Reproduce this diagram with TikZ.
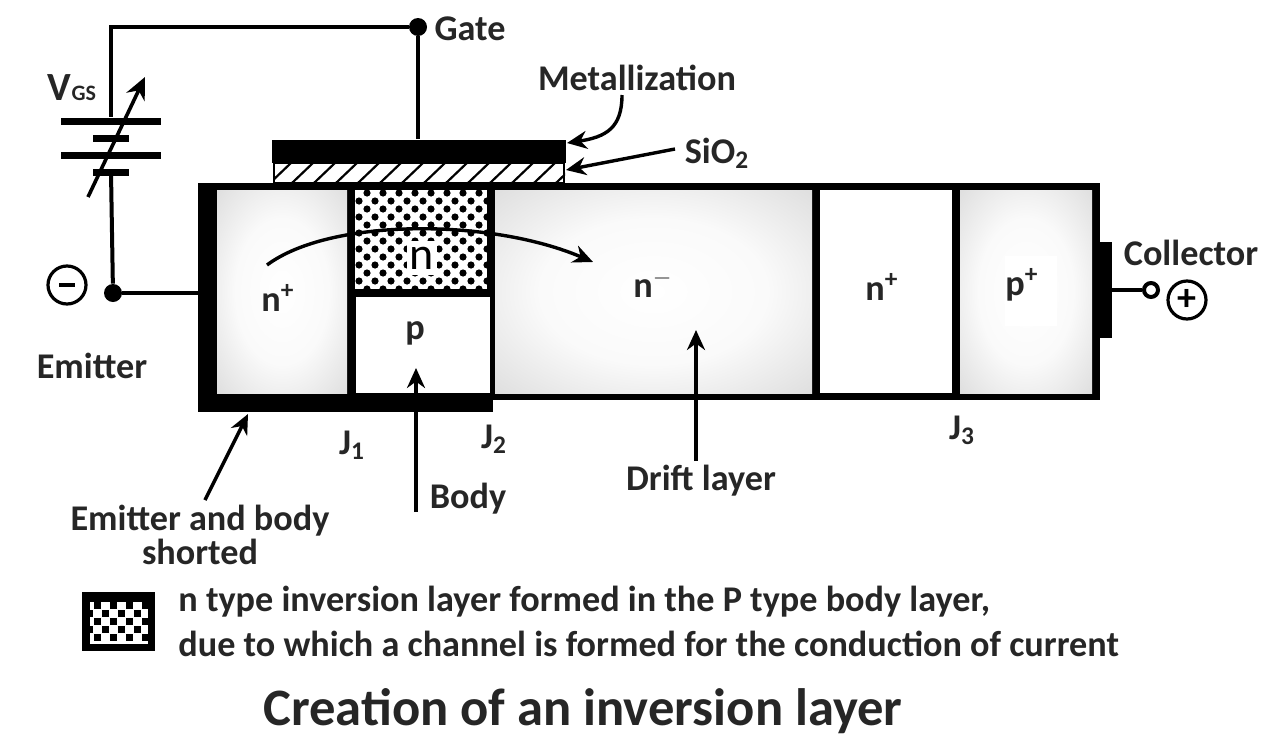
\documentclass[tikz,border=0pt]{standalone}
\usepackage{fontspec}
\setmainfont{Carlito}
\usetikzlibrary{arrows.meta}
\pgfdeclareradialshading{softedge}{\pgfpointorigin}{rgb(0bp)=(1,1,1); rgb(18bp)=(0.98,0.98,0.98); rgb(36bp)=(0.87,0.87,0.87); rgb(50bp)=(0.8,0.8,0.8)}
\tikzset{
  lbl/.style={inner sep=0pt, font=\fontsize{18.1}{17}\selectfont\bfseries, text=black!85},
  layer/.style={draw=none, inner sep=0pt, shading=softedge},
  plainlayer/.style={draw=none, fill=white, inner sep=0pt},
  blackbar/.style={draw=none, fill=black, inner sep=0pt},
  wire/.style={line width=2pt, black},
  pointer/.style={line width=1.7pt, black, -{Stealth[length=10pt,width=9pt]}}
}
\begin{document}
\begin{tikzpicture}[x=0.5pt, y=-0.5pt]
  \useasboundingbox (0,0) rectangle (1280,750);

  % device body
  \node[blackbar, minimum width=451pt, minimum height=108.5pt] (body) at (649,291.5) {};
  \node[blackbar, minimum width=147.5pt, minimum height=114.5pt] (contact) at (345.5,297.5) {};
  \node[blackbar, minimum width=6pt, minimum height=48pt] (collbar) at (1106,290) {};
  \node[layer, minimum width=65pt, minimum height=101.5pt] (nplusa) at (282,291.5) {};
  \node[plainlayer, minimum width=66pt, minimum height=49.5pt] (channel) at (421,239.5) {};
  \node[plainlayer, minimum width=67pt, minimum height=48pt] (pbody) at (422.5,345) {};
  \node[layer, minimum width=158.5pt, minimum height=101.5pt] (ndrift) at (653.5,291.5) {};
  \node[plainlayer, minimum width=66pt, minimum height=101.5pt] (nplusb) at (886,291.5) {};
  \node[layer, minimum width=66pt, minimum height=101.5pt] (pplus) at (1026,291.5) {};

  % inversion layer dots
  \begin{scope}
    \clip (channel.south west) rectangle (channel.north east);
    \foreach \row in {0,...,12}
      \foreach \col in {0,...,8}
        \fill ({351+16*\col+8*mod(\row,2)},{193+8*\row}) circle (3.6);
  \end{scope}

  % gate stack
  \node[blackbar, minimum width=147pt, minimum height=11.5pt] (metal) at (419,151) {};
  \node[draw=black, line width=1pt, fill=white, inner sep=0pt, minimum width=145pt, minimum height=10pt] (oxide) at (419,173) {};
  \begin{scope}
    \clip (oxide.south west) rectangle (oxide.north east);
    \foreach \x in {0,...,14}
      \draw[line width=1.1pt] ({270+22*\x},183) -- ({292+22*\x},162);
  \end{scope}

  % gate and emitter wiring
  \node[circle, fill=black, inner sep=0pt, minimum size=9pt] (gatedot) at (418,27) {};
  \node[circle, fill=black, inner sep=0pt, minimum size=9pt] (emitdot) at (113,293) {};
  \coordinate (corner) at (111,29);
  \node[blackbar, minimum width=50pt, minimum height=3.5pt] (plateA) at (111,121) {};
  \node[blackbar, minimum width=18pt, minimum height=3.5pt] (plateB) at (111,138) {};
  \node[blackbar, minimum width=50pt, minimum height=3.5pt] (plateC) at (111,155) {};
  \node[blackbar, minimum width=18pt, minimum height=3.5pt] (plateD) at (111,172) {};
  \draw[wire] (gatedot) -- (gatedot -| corner) -- (plateA.north -| corner);
  \draw[wire] (gatedot) -- (metal.north -| gatedot);
  \draw[wire] (plateD) -- (emitdot);
  \draw[wire] (emitdot) -- (contact.west |- emitdot);
  \coordinate (tuneA) at (88,197);
  \coordinate (tuneB) at (145,77);
  \draw[line width=1.8pt, -{Stealth[length=11pt,width=10pt]}] (tuneA) -- (tuneB);

  % collector wiring
  \node[circle, draw=black, line width=2pt, fill=white, inner sep=0pt, minimum size=7pt] (colldot) at (1151,290) {};
  \draw[wire] (collbar.east |- colldot) -- (colldot);
  \node[circle, draw=black, line width=1.6pt, inner sep=0pt, minimum size=19pt, font=\fontsize{19}{19}\selectfont\bfseries] (plus) at (1187,300) {+};
  \node[circle, draw=black, line width=1.6pt, inner sep=0pt, minimum size=19pt] (minus) at (67,285) {};
  \draw[line width=1.8pt] ([xshift=-4pt]minus.center) -- ([xshift=4pt]minus.center);

  % region labels
  \node[lbl] (lnplusa) at (278,298) {n\textsuperscript{+}};
  \node[plainlayer, minimum width=15pt, minimum height=17pt, font=\fontsize{23}{23}\selectfont] (lchannel) at (422,258) {n};
  \node[lbl] (lpbody) at (415,333) {p};
  \node[lbl] (lndrift) at (653,284) {n\textsuperscript{$-$}};
  \node[lbl] (lnplusb) at (882,287) {n\textsuperscript{+}};
  \node[plainlayer, minimum width=26pt, minimum height=35pt] (ppatch) at (1031,291) {};
  \node[lbl] (lpplus) at (1022,285) {p\textsuperscript{+}};

  % outer labels
  \node[lbl] (lgate) at (470,29) {Gate};
  \node[lbl, font=\fontsize{20}{20}\selectfont\bfseries] (lvgs) at (72,88) {V{\fontsize{11}{11}\selectfont GS}};
  \node[lbl] (lmetal) at (637,78) {Metallization};
  \node[lbl] (lsio) at (717,153) {SiO\textsubscript{2}};
  \node[lbl] (lemit) at (92,366) {Emitter};
  \node[lbl] (lcoll) at (1191,253) {Collector};
  \node[lbl] (lja) at (352,445) {J\textsubscript{1}};
  \node[lbl] (ljb) at (494,439) {J\textsubscript{2}};
  \node[lbl] (ljc) at (962,430) {J\textsubscript{3}};
  \node[lbl] (lbody) at (468,499) {Body};
  \node[lbl] (ldrift) at (701,481) {Drift layer};
  \node[lbl, align=center] (lshort) at (200,535) {Emitter and body\\shorted};

  % pointers
  \coordinate (metalfrom) at (622,95);
  \coordinate (metalto) at (567,143);
  \coordinate (siofrom) at (675,149);
  \coordinate (sioto) at (566,170);
  \coordinate (shortfrom) at (205,500);
  \coordinate (shortto) at (248,414);
  \coordinate (bodyfrom) at (416,512);
  \coordinate (bodyto) at (416,368);
  \coordinate (driftfrom) at (696,461);
  \coordinate (driftto) at (696,330);
  \coordinate (currfrom) at (267,265);
  \coordinate (currto) at (593,262);
  \draw[pointer] (metalfrom) .. controls (622,128) and (606,137) .. (metalto);
  \draw[pointer] (siofrom) -- (sioto);
  \draw[pointer] (shortfrom) -- (shortto);
  \draw[pointer] (bodyfrom) -- (bodyto);
  \draw[pointer] (driftfrom) -- (driftto);
  \draw[pointer] (currfrom) .. controls (330,218) and (490,218) .. (currto);

  % legend
  \node[blackbar, minimum width=36.5pt, minimum height=29.5pt] (legendbox) at (118.5,621.5) {};
  \node[plainlayer, minimum width=29pt, minimum height=21pt] (legendfill) at (119,622.5) {};
  \begin{scope}
    \clip (legendfill.south west) rectangle (legendfill.north east);
    \foreach \row in {0,...,4}
      \foreach \col in {0,...,4}
        \fill ({89+16*\col+8*mod(\row+1,2)-3.5},{605+8.2*\row-3.5}) rectangle +(7,7);
  \end{scope}
  \node[lbl, anchor=west] (legendA) at (178,602) {n type inversion layer formed in the P type body layer,};
  \node[lbl, anchor=west] (legendB) at (178,644) {due to which a channel is formed for the conduction of current};
  \node[lbl, font=\fontsize{26.3}{28}\selectfont\bfseries] (title) at (583,711) {Creation of an inversion layer};
\end{tikzpicture}
\end{document}
